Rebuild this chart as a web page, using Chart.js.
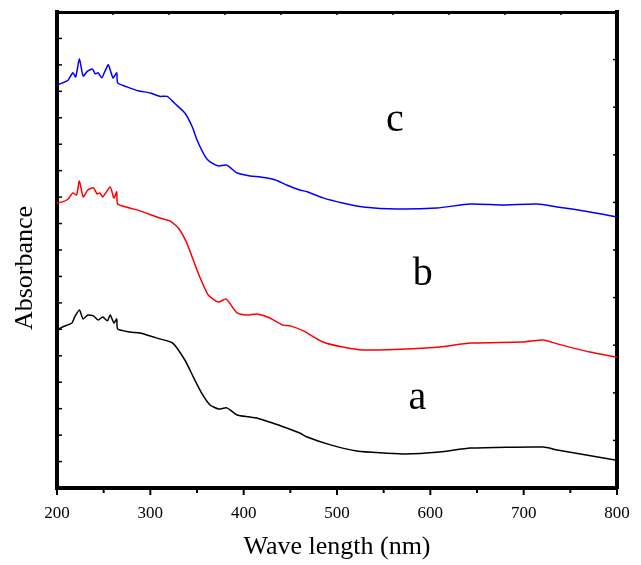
<!DOCTYPE html>
<html>
<head>
<meta charset="utf-8">
<script src="https://cdn.jsdelivr.net/npm/chart.js@4/dist/chart.umd.min.js"></script>
<style>
  html, body { margin: 0; padding: 0; background: #fff; }
  #wrap { width: 641px; height: 565px; }
</style>
</head>
<body>
<div id="wrap"><canvas id="uvChart" width="641" height="565"></canvas></div>
<script>
// Spectra (wavelength in nm, absorbance in arb. units)
const waveA = [200, 206, 216, 219, 224, 228, 233, 239, 244, 249, 254, 257, 261, 264, 265, 278, 289, 310, 324, 337, 346, 355, 364, 373, 382, 393, 405, 414, 431, 446, 460, 468, 493, 521, 571, 610, 643, 721, 736, 798, 800];
const absA  = [0.598, 0.609, 0.624, 0.647, 0.673, 0.639, 0.654, 0.651, 0.635, 0.647, 0.632, 0.654, 0.624, 0.639, 0.601, 0.590, 0.586, 0.564, 0.548, 0.484, 0.420, 0.359, 0.314, 0.299, 0.303, 0.276, 0.269, 0.265, 0.246, 0.227, 0.208, 0.193, 0.163, 0.140, 0.129, 0.136, 0.151, 0.155, 0.144, 0.106, 0.106];

const waveB = [200, 206, 212, 217, 221, 224, 228, 233, 239, 243, 246, 249, 257, 261, 264, 265, 278, 289, 310, 321, 330, 339, 346, 353, 362, 373, 381, 393, 404, 414, 428, 442, 450, 464, 485, 506, 528, 575, 610, 643, 699, 721, 736, 771, 800];
const absB  = [1.078, 1.082, 1.093, 1.116, 1.108, 1.161, 1.101, 1.127, 1.135, 1.112, 1.116, 1.101, 1.138, 1.097, 1.120, 1.074, 1.059, 1.048, 1.021, 1.010, 0.983, 0.927, 0.862, 0.798, 0.730, 0.703, 0.715, 0.662, 0.654, 0.658, 0.643, 0.616, 0.613, 0.594, 0.552, 0.533, 0.522, 0.526, 0.533, 0.548, 0.552, 0.560, 0.545, 0.514, 0.495];

const waveC = [200, 206, 212, 217, 220, 224, 228, 233, 238, 241, 244, 248, 251, 255, 260, 264, 265, 275, 287, 300, 310, 318, 326, 337, 345, 350, 359, 364, 373, 382, 393, 407, 418, 434, 446, 460, 468, 485, 506, 528, 564, 607, 643, 678, 714, 736, 771, 800];
const absC  = [1.524, 1.532, 1.543, 1.570, 1.554, 1.623, 1.558, 1.577, 1.584, 1.566, 1.570, 1.551, 1.573, 1.600, 1.551, 1.570, 1.532, 1.517, 1.502, 1.494, 1.481, 1.481, 1.455, 1.418, 1.365, 1.316, 1.252, 1.233, 1.218, 1.221, 1.191, 1.180, 1.176, 1.165, 1.146, 1.127, 1.120, 1.097, 1.078, 1.063, 1.055, 1.059, 1.074, 1.070, 1.074, 1.063, 1.044, 1.025];

const curveNames  = ['a', 'b', 'c'];
const curveColors = ['#000000', '#ff0000', '#0000ff'];
// where the curve letters sit (data coordinates, text baseline)
const letterWave = [586, 592, 562];
const letterAbs  = [0.299, 0.768, 1.350];

const xTicks = [200, 300, 400, 500, 600, 700, 800];
const serif = '"Liberation Serif", "Times New Roman", serif';

function toPoints(xs, ys) {
  return xs.map((x, i) => ({ x: x, y: ys[i] }));
}

// inward/outward tick marks like the original plot
const tickMarks = {
  id: 'tickMarks',
  afterDraw(chart) {
    const ctx = chart.ctx;
    const area = chart.chartArea;
    ctx.save();
    ctx.strokeStyle = '#000';
    ctx.lineWidth = 2;
    const s = chart.scales;
    s.x.ticks.forEach(t => {
      const px = s.x.getPixelForValue(t.value);
      const major = t.value % 100 === 0;
      ctx.beginPath();
      ctx.moveTo(px, area.bottom);
      ctx.lineTo(px, area.bottom + (major ? 7 : 5));
      ctx.stroke();
    });
    ctx.lineWidth = 1.5;
    s.xTop.ticks.forEach(t => {
      const px = s.xTop.getPixelForValue(t.value);
      ctx.beginPath();
      ctx.moveTo(px, area.top);
      ctx.lineTo(px, area.top + 3);
      ctx.stroke();
    });
    s.y.ticks.forEach(t => {
      const py = s.y.getPixelForValue(t.value);
      ctx.beginPath();
      ctx.moveTo(area.left, py);
      ctx.lineTo(area.left + 5, py);
      ctx.stroke();
    });
    s.yRight.ticks.forEach(t => {
      const py = s.yRight.getPixelForValue(t.value);
      ctx.beginPath();
      ctx.moveTo(area.right, py);
      ctx.lineTo(area.right - 4, py);
      ctx.stroke();
    });
    ctx.restore();
  }
};

// letters a, b, c beside each spectrum, plus the y title (sits a bit below centre)
const curveLetters = {
  id: 'curveLetters',
  afterDatasetsDraw(chart) {
    const ctx = chart.ctx;
    ctx.save();
    ctx.fillStyle = '#000';
    ctx.font = '40px ' + serif;
    ctx.textAlign = 'center';
    ctx.textBaseline = 'alphabetic';
    curveNames.forEach((name, i) => {
      const px = chart.scales.x.getPixelForValue(letterWave[i]);
      const py = chart.scales.y.getPixelForValue(letterAbs[i]);
      ctx.fillText(name, px, py);
    });
    ctx.translate(25, 268);
    ctx.rotate(-Math.PI / 2);
    ctx.font = '26px ' + serif;
    ctx.textBaseline = 'middle';
    ctx.fillText('Absorbance', 0, 0);
    ctx.restore();
  }
};

const ctx = document.getElementById('uvChart').getContext('2d');
new Chart(ctx, {
  type: 'line',
  data: {
    datasets: [
      { label: curveNames[0], data: toPoints(waveA, absA), borderColor: curveColors[0] },
      { label: curveNames[1], data: toPoints(waveB, absB), borderColor: curveColors[1] },
      { label: curveNames[2], data: toPoints(waveC, absC), borderColor: curveColors[2] }
    ]
  },
  options: {
    responsive: false,
    animation: false,
    layout: { padding: 0 },
    elements: {
      line: { borderWidth: 1.5, tension: 0.2, fill: false },
      point: { radius: 0 }
    },
    plugins: {
      legend: { display: false },
      tooltip: { enabled: false }
    },
    scales: {
      x: {
        type: 'linear',
        position: 'bottom',
        min: 200,
        max: 800,
        afterBuildTicks: s => { s.ticks = [200,250,300,350,400,450,500,550,600,650,700,750,800].map(v => ({ value: v })); },
        afterFit: s => { s.height = 77; s.paddingLeft = 0; s.paddingRight = 0; },
        grid: { display: false, drawTicks: false },
        border: { display: true, color: '#000', width: 4 },
        ticks: {
          padding: 15,
          color: '#000',
          font: { family: serif, size: 17 },
          maxRotation: 0,
          autoSkip: false,
          callback: v => (xTicks.includes(v) ? String(v) : '')
        },
        title: {
          display: true,
          text: 'Wave length (nm)',
          color: '#000',
          font: { family: serif, size: 26 },
          padding: { top: 0, bottom: 2 }
        }
      },
      xTop: {
        type: 'linear',
        position: 'top',
        min: 200,
        max: 800,
        afterBuildTicks: s => { s.ticks = [200,260,320,380,440,500,560,620,680,740,800].map(v => ({ value: v })); },
        afterFit: s => { s.height = 12; s.paddingLeft = 0; s.paddingRight = 0; },
        grid: { display: false, drawTicks: false },
        border: { display: true, color: '#000', width: 3 },
        ticks: { display: false }
      },
      y: {
        type: 'linear',
        position: 'left',
        min: 0,
        max: 1.8,
        afterFit: s => { s.width = 57; },
        grid: { display: false, drawTicks: false },
        border: { display: true, color: '#000', width: 4 },
        ticks: { display: false, stepSize: 0.1 }
      },
      yRight: {
        type: 'linear',
        position: 'right',
        min: 0,
        max: 10,
        afterFit: s => { s.width = 24; },
        grid: { display: false, drawTicks: false },
        border: { display: true, color: '#000', width: 4 },
        ticks: { display: false, stepSize: 1 }
      }
    }
  },
  plugins: [tickMarks, curveLetters]
});
</script>
</body>
</html>
